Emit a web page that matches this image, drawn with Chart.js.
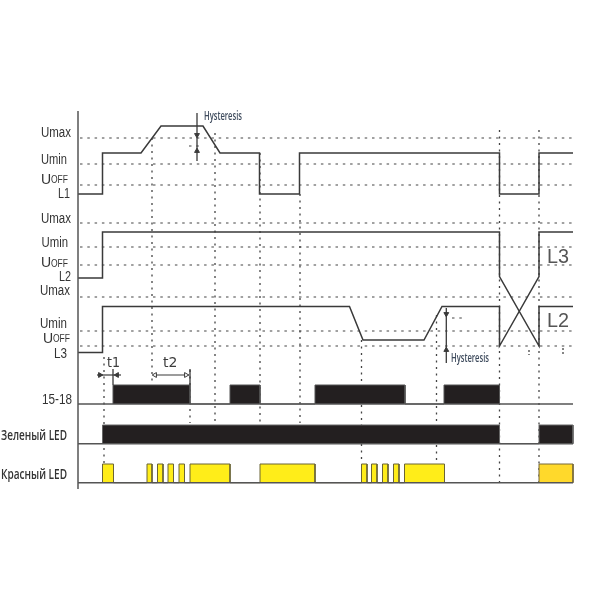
<!DOCTYPE html>
<html lang="ru">

<head>
    <meta charset="UTF-8">
    <title>Timing diagram</title>
    <script src="https://cdn.jsdelivr.net/npm/chart.js@4"></script>
    <style>
        body { margin: 0; background: #fff; }
        canvas { display: block; }
    </style>
</head>

<body>
    <canvas id="diagram" width="600" height="600"></canvas>

    <script>
        // signals: [time, level]
        const l1Signal = [[78, 194], [102.5, 194], [102.5, 153], [141, 153], [161, 126], [203, 126], [220, 153], [259.5, 153], [259.5, 194], [299.5, 194], [299.5, 153], [499.5, 153], [499.5, 194], [539, 194], [539, 153], [573, 153]];
        const l2Signal = [[78, 278], [102.5, 278], [102.5, 232], [499.5, 232], [499.5, 276.5], [539, 346], [539, 306.5], [573, 306.5]];
        const l3Signal = [[78, 352.5], [102.5, 352.5], [102.5, 306.5], [349.5, 306.5], [363, 340], [424, 340], [442, 306.5], [499.5, 306.5], [499.5, 346], [539, 276.5], [539, 232], [573, 232]];

        // threshold levels
        const thresholdLevels = [138, 164, 185, 223, 247, 265, 297, 331, 346];

        // event times and how far down each guide runs
        const guideTimes = [104, 152, 190, 215, 260, 300, 361.5, 436.5, 499.5, 539];
        const guideTops = [357, 138, 370, 133, 153, 194, 340, 315, 130, 130];
        const guideEnds = [463, 385, 423, 423, 423, 423, 463, 463, 483, 483];

        // relay 15-18
        const relayOn = [113, 230, 315, 444];
        const relayOff = [190, 260, 405, 499.5];

        // green LED
        const greenOn = [102.5, 539];
        const greenOff = [499.5, 573];

        // red LED
        const redOn = [102.5, 147, 157.5, 168, 179, 190, 260, 361.5, 371.5, 382.5, 393.5, 404.5];
        const redOff = [113.5, 152, 163, 173.5, 184.5, 230, 315, 367, 377, 388, 399, 444.5];
        const redLastOn = [539];
        const redLastOff = [573];

        // text
        const rowLabels = ['Umax', 'Umin', 'UOFF', 'L1', 'Umax', 'Umin', 'UOFF', 'L2', 'Umax', 'Umin', 'UOFF', 'L3', '15-18'];
        const ledLabels = ['Зеленый LED', 'Красный LED'];
        const timerLabels = ['t1', 't2'];
        const phaseLabels = ['L3', 'L2'];
        const hysteresisLabel = 'Hysteresis';

        const LINE = '#3a3a3a';
        const BAR = '#231f20';

        function toPoints(pairs) {
            return pairs.map(p => ({ x: p[0], y: p[1] }));
        }

        // square wave along a baseline, closed so the fill reads as blocks
        function pulses(on, off, base, top) {
            const pts = [];
            on.forEach((start, i) => {
                pts.push({ x: start, y: base }, { x: start, y: top }, { x: off[i], y: top }, { x: off[i], y: base });
            });
            return pts;
        }

        function line(data, extra) {
            return Object.assign({ data, borderColor: LINE, borderWidth: 1.5, showLine: true, pointRadius: 0, fill: false, order: 2 }, extra);
        }

        function block(on, off, base, top, color, edge) {
            return line(pulses(on, off, base, top), {
                borderColor: edge, borderWidth: 1, backgroundColor: color, fill: { value: base }, order: 3
            });
        }

        const dashStyle = { borderColor: '#444', borderWidth: 1.2, borderDash: [2.5, 4.8], order: 6 };
        const dotStyle = { borderColor: '#444', borderWidth: 1.3, borderDash: [2, 4.5], order: 5 };

        const datasets = [];

        thresholdLevels.forEach(level => {
            datasets.push(line([{ x: 80, y: level }, { x: 573, y: level }], dashStyle));
        });
        guideTimes.forEach((t, i) => {
            datasets.push(line([{ x: t, y: guideTops[i] }, { x: t, y: guideEnds[i] }], dotStyle));
        });

        // the short hysteresis dashes
        datasets.push(line([{ x: 189, y: 146 }, { x: 201, y: 146 }], dashStyle));
        datasets.push(line([{ x: 452, y: 318 }, { x: 466, y: 318 }], dashStyle));
        datasets.push(line([{ x: 529, y: 350 }, { x: 529, y: 355 }], { ...dotStyle, borderDash: [2, 2] }));
        datasets.push(line([{ x: 563, y: 348 }, { x: 563, y: 355 }], { ...dotStyle, borderDash: [2, 2] }));

        datasets.push(line(toPoints(l1Signal)));
        datasets.push(line(toPoints(l2Signal)));
        datasets.push(line(toPoints(l3Signal)));

        // baselines and the axis
        datasets.push(line([{ x: 78, y: 111 }, { x: 78, y: 489 }], { borderColor: '#555', order: 1 }));
        datasets.push(line([{ x: 78, y: 404 }, { x: 573, y: 404 }], { borderColor: '#555', order: 1 }));
        datasets.push(line([{ x: 78, y: 443.7 }, { x: 573, y: 443.7 }], { borderColor: '#555', order: 1 }));
        datasets.push(line([{ x: 78, y: 482.7 }, { x: 573, y: 482.7 }], { borderColor: '#555', order: 1 }));

        datasets.push(block(relayOn, relayOff, 404, 385, BAR, '#555'));
        datasets.push(block(greenOn, greenOff, 443.7, 425, BAR, '#666'));
        datasets.push(block(redOn, redOff, 482.7, 464, '#ffed19', '#6b6436'));
        datasets.push(block(redLastOn, redLastOff, 482.7, 464, '#ffd92b', '#77683a'));

        // hysteresis arrows
        function arrow(data, rotation, fillColor) {
            return line(data, {
                showLine: false, pointStyle: 'triangle', pointRadius: 2.8, pointRotation: rotation,
                pointBackgroundColor: fillColor || LINE, pointBorderColor: LINE, pointBorderWidth: 1, order: 0
            });
        }
        datasets.push(line([{ x: 197, y: 113 }, { x: 197, y: 161 }], { borderWidth: 1.3, order: 1 }));
        datasets.push(arrow([{ x: 197, y: 135 }], 180));
        datasets.push(arrow([{ x: 197, y: 151 }], 0));
        datasets.push(line([{ x: 446.3, y: 308 }, { x: 446.3, y: 363 }], { borderWidth: 1.3, order: 1 }));
        datasets.push(arrow([{ x: 446.3, y: 314 }], 180));
        datasets.push(arrow([{ x: 446.3, y: 350 }], 0));

        // timer arrows
        datasets.push(line([{ x: 97, y: 375 }, { x: 121, y: 375 }], { borderWidth: 1.2, order: 1 }));
        datasets.push(line([{ x: 113, y: 369 }, { x: 113, y: 385 }], { borderWidth: 1.3, order: 1 }));
        datasets.push(arrow([{ x: 100, y: 375 }], 90));
        datasets.push(arrow([{ x: 117, y: 375 }], 270));
        datasets.push(line([{ x: 153, y: 375 }, { x: 189, y: 375 }], { borderWidth: 1.2, order: 1 }));
        datasets.push(line([{ x: 190, y: 369 }, { x: 190, y: 385 }], { borderWidth: 1.3, order: 1 }));
        datasets.push(arrow([{ x: 155, y: 375 }], 270, '#fff'));
        datasets.push(arrow([{ x: 186, y: 375 }], 90, '#fff'));

        // where the texts sit, in axis units
        const rowLabelSpots = [[41, 133], [41, 160], [41, 180], [58, 194.5], [41, 219], [41.5, 243], [41, 263.5], [59, 277], [40, 291], [40, 324], [43, 339], [54, 354], [42, 400]];
        const rowLabelWidths = [30, 26, 26, 12, 30, 26.5, 26, 12, 30, 27, 27, 13, 30];

        const textPlugin = {
            id: 'diagramText',
            afterDatasetsDraw(chart) {
                const { ctx, scales } = chart;
                const put = (text, x, y, font, color, maxWidth) => {
                    ctx.font = font;
                    ctx.fillStyle = color;
                    ctx.fillText(text, scales.x.getPixelForValue(x), scales.y.getPixelForValue(y), maxWidth);
                };
                ctx.save();
                ctx.textAlign = 'left';
                ctx.textBaseline = 'middle';

                rowLabels.forEach((label, i) => {
                    const [x, y] = rowLabelSpots[i];
                    if (label === 'UOFF') {
                        put('U', x, y, '14px "Liberation Sans"', '#333');
                        put('OFF', x + 10, y + 0.5, '10px "Liberation Sans"', '#333', 17);
                    } else {
                        put(label, x, y, '14px "Liberation Sans"', '#333', rowLabelWidths[i]);
                    }
                });

                put(ledLabels[0], 1, 436, '600 15px "Open Sans"', '#333', 66);
                put(ledLabels[1], 1, 475, '600 15px "Open Sans"', '#333', 66);

                put(timerLabels[0], 107, 363, '14px "DejaVu Sans"', '#3c3c3c', 13);
                put(timerLabels[1], 163, 363, '14px "DejaVu Sans"', '#3c3c3c', 15);

                put(phaseLabels[0], 547, 257, '20px "Liberation Sans"', '#555', 22);
                put(phaseLabels[1], 547, 321, '20px "Liberation Sans"', '#555', 22);

                put(hysteresisLabel, 204, 117, '600 12px "Open Sans"', '#3d4a5c', 38);
                put(hysteresisLabel, 451, 359, '600 12px "Open Sans"', '#3d4a5c', 38);
                ctx.restore();
            }
        };

        new Chart(document.getElementById('diagram').getContext('2d'), {
            type: 'scatter',
            data: { datasets },
            options: {
                responsive: false,
                animation: false,
                layout: { padding: 0, autoPadding: false },
                plugins: { legend: { display: false }, tooltip: { enabled: false } },
                scales: {
                    x: { type: 'linear', min: 0, max: 600, display: false },
                    y: { type: 'linear', min: 0, max: 600, reverse: true, display: false }
                }
            },
            plugins: [textPlugin]
        });
    </script>
</body>

</html>
